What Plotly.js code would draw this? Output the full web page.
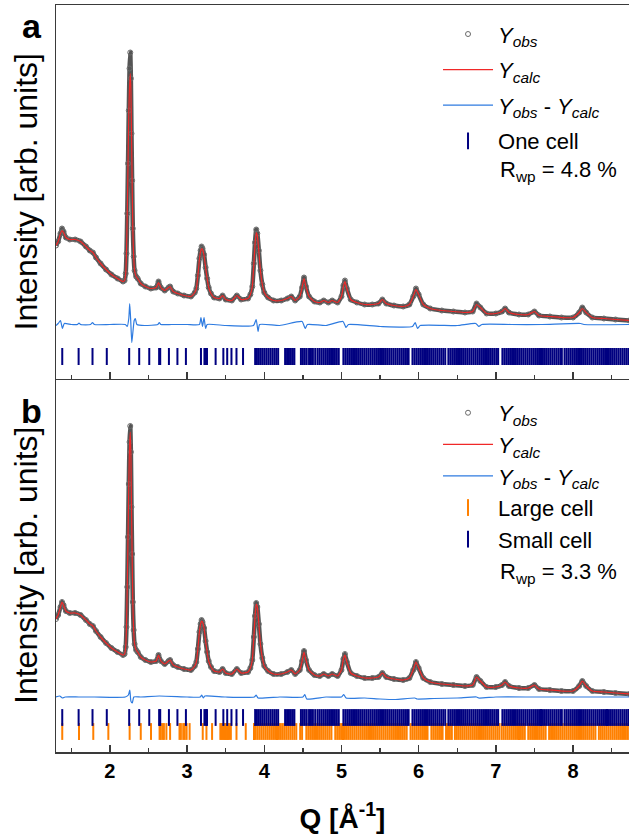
<!DOCTYPE html>
<html>
<head>
<meta charset="utf-8">
<script src="https://cdn.plot.ly/plotly-3.0.1.min.js"></script>
<style>html,body{margin:0;padding:0;background:#fff;}#chart{width:629px;height:834px;}</style>
</head>
<body>
<div id="chart"></div>
<script>
// ---------------- data ----------------
const q = [1.302,1.33,1.36,1.38,1.40,1.43,1.48,1.55,1.62,1.69,
1.74,1.78,1.82,1.88,1.95,2.02,2.10,2.17,2.19,2.205,
2.215,2.225,2.235,2.245,2.255,2.264,2.272,2.28,2.288,2.297,
2.308,2.32,2.34,2.36,2.40,2.46,2.53,2.60,2.63,2.66,
2.71,2.76,2.78,2.82,2.88,2.96,3.05,3.10,3.12,3.14,
3.16,3.175,3.188,3.20,3.22,3.24,3.26,3.28,3.31,3.35,
3.42,3.46,3.50,3.58,3.645,3.70,3.79,3.82,3.845,3.865,
3.88,3.896,3.91,3.93,3.95,3.975,4.00,4.05,4.12,4.22,
4.30,4.35,4.40,4.46,4.49,4.515,4.54,4.58,4.65,4.72,
4.77,4.83,4.88,4.95,5.00,5.025,5.045,5.07,5.12,5.20,
5.30,5.40,5.48,5.53,5.58,5.68,5.80,5.88,5.93,5.965,
6.00,6.06,6.15,6.30,6.45,6.60,6.70,6.75,6.80,6.88,
7.00,7.08,7.12,7.17,7.30,7.42,7.50,7.56,7.70,7.85,
8.00,8.08,8.12,8.17,8.25,8.40,8.55,8.73];

const yObs = [133,137,145,150,147,141,139,139,137,132,
128,126,121,115,109,104,100,97,98,105,
125,165,215,268,310,326,300,245,198,150,
122,108,102,100,95,92,90,91,97,91,
88,91,92,87,85,83,82,86,90,103,
120,128,132,130,124,111,100,91,85,81,
80,83,79,78,83,79,80,84,92,115,
136,149,145,128,108,94,86,81,78,78,
80,82,78,82,91,101,92,82,77,76,
78,76,78,76,82,93,98,90,79,76,
74,74,75,79,75,73,72,74,82,90,
84,74,70,68,67,66,67,75,71,65,
65,67,70,66,64,64,67,63,62,61,
61,66,71,66,61,60,59,58];

const yCalcA = [133,137,145,148,146,141,139,139,137,132,
128,126,121,115,109,104,100,97,98,105,
125,165,214,265,292,305,290,246,198,150,
122,108,102,100,95,92,90,91,96,91,
88,91,92,87,85,83,82,86,90,103,
119,127,130,129,123,111,100,91,85,81,
80,83,79,78,83,79,80,84,92,114,
134,146,143,127,108,94,86,81,78,78,
80,82,78,82,91,100,92,82,77,76,
78,76,78,76,82,92,97,90,79,76,
74,74,75,79,75,73,72,74,82,89,
84,74,70,68,67,66,67,74,71,65,
65,67,70,66,64,64,67,63,62,61,
61,66,70,66,61,60,59,58];

const yCalcB = [133,137,145,150,147,141,139,139,137,132,
128,126,121,115,109,104,100,97,98,105,
125,165,215,267,306,320,298,245,198,150,
122,108,102,100,95,92,90,91,97,91,
88,91,92,87,85,83,82,86,90,103,
120,128,131,130,124,111,100,91,85,81,
80,83,79,78,83,79,80,84,92,115,
135,148,145,128,108,94,86,81,78,78,
80,82,78,82,91,100,92,82,77,76,
78,76,78,76,82,93,97,90,79,76,
74,74,75,79,75,73,72,74,82,90,
84,74,70,68,67,66,67,75,71,65,
65,67,70,66,64,64,67,63,62,61,
61,66,71,66,61,60,59,58];

// residuals Yobs - Ycalc
const diffQA = [1.302,1.33,1.36,1.385,1.41,1.5,1.58,1.6,1.62,1.75,1.775,1.80,2.0,2.20,2.225,2.245,2.257,2.27,2.284,2.30,2.315,2.33,2.35,2.45,2.62,2.64,2.66,2.8,3.0,3.16,3.18,3.20,3.22,3.24,3.26,3.5,3.86,3.895,3.92,3.94,4.2,4.49,4.53,4.56,4.8,5.02,5.06,5.09,5.5,5.92,5.955,5.985,6.02,6.5,6.74,6.78,6.82,7.2,7.6,8.1,8.14,8.73];
const diffA  = [-1,1,4,-4,1,0,0,1.5,0,0,2,0,0,0,-2,6,21,4,-18,-6,4,6,0,-1,0,2,0,0,0,0,7,-2,7,-4,0,-1,-1,5,-7,0,-1,3,-4,0,-1,3,-3,0,-2,-2,2,-4,-1,-1,1,-2,0,0,0,1,0,0];

const diffQB = [1.302,1.35,1.385,1.42,1.6,1.8,2.2,2.24,2.258,2.272,2.29,2.31,2.4,2.64,3.0,3.17,3.19,3.21,3.23,3.5,3.87,3.895,3.92,4.2,4.5,4.525,4.55,4.8,5.0,5.03,5.06,5.3,5.5,5.7,5.95,5.98,6.2,6.5,6.75,6.78,7.0,7.5,8.0,8.73];
const diffB  = [0,1,-1,0,0,0,0,2,7,-4,-6,0,0,1,0,0,2,-1,1,0,0,2,-1,0,0,2.5,-2,0,0,2.5,-1,-1,-2,-2.5,-1,-2,-1.5,-1,0,-1,0,0,0,0];

// reflection positions (Q)
const reflOne = [1.383,1.595,1.775,1.96,2.25,2.38,2.51,2.638,2.652,2.765,2.875,2.985,3.18,3.225,3.245,3.258,3.37,3.47,3.52,3.575,3.64,3.725,
3.882,3.905,3.93,3.955,3.98,4.005,4.03,4.055,4.08,4.105,4.13,4.155,4.18,
4.27,4.295,4.32,4.345,4.37,4.39,
4.475,4.50,4.525,4.55,4.58,4.605,4.63,4.66,
4.69,4.715,4.74,4.765,4.79,4.815,4.84,4.865,4.89,4.915,4.94,4.965,
5.025,5.05,5.075,5.10,5.125,5.15,5.175,5.20,5.225,5.25,5.275,5.30,5.325,5.35,5.375,5.40,5.425,5.45,5.475,5.50,5.525,5.55,5.575,5.60,5.625,5.65,5.675,5.70,5.725,5.75,5.775,5.80,5.825,5.85,5.87,
5.92,5.945,5.97,5.995,6.02,6.045,6.07,6.095,6.12,6.145,6.17,6.195,6.22,6.245,6.27,6.295,6.32,6.345,
6.385,6.41,6.435,6.46,6.485,6.51,6.535,6.56,6.585,6.61,6.635,6.66,6.685,6.71,6.735,6.76,6.785,6.81,6.835,6.86,6.885,6.91,6.935,6.96,6.985,7.01,7.03,
7.085,7.11,7.135,7.16,7.185,7.21,7.235,7.26,7.285,7.31,7.335,7.36,7.385,7.41,7.435,7.46,7.485,7.51,7.535,7.56,7.585,7.61,7.635,7.66,7.685,7.71,7.735,7.76,7.785,7.81,7.835,7.855,
7.89,7.915,7.94,7.965,7.99,8.015,8.04,8.065,8.09,8.115,8.14,8.165,8.19,8.215,8.24,8.265,8.29,8.315,8.34,8.365,8.39,8.415,8.44,8.465,8.49,8.515,8.54,8.565,8.59,8.615,8.64,8.665,8.69,8.715,8.74];

const reflLarge = [1.383,1.60,1.785,1.98,2.256,2.40,2.533,2.644,2.66,2.683,2.70,2.732,2.78,2.902,2.92,2.95,2.97,2.994,3.033,3.203,3.251,3.324,3.431,3.445,3.46,3.475,3.489,3.503,3.518,3.532,3.547,3.567,3.64,3.76,
3.867,3.89,3.915,3.94,3.965,3.99,4.015,4.04,4.065,4.09,4.115,4.14,4.165,4.19,4.215,4.24,4.265,4.29,4.315,4.34,4.365,4.39,4.415,
4.465,4.49,
4.545,4.57,4.595,4.62,4.645,4.67,4.695,4.72,4.745,4.77,4.795,4.82,4.845,4.87,
4.92,4.945,4.97,4.995,5.02,5.045,5.07,5.095,5.12,5.145,5.17,5.195,5.22,5.245,5.27,5.295,5.32,5.345,5.37,5.395,5.42,5.445,5.47,5.495,5.52,5.545,5.57,5.595,5.62,5.645,5.67,5.695,5.72,5.745,5.77,5.795,5.82,5.845,
5.895,5.92,5.945,5.97,5.995,6.02,6.045,6.07,6.095,6.115,
6.165,6.19,6.215,6.24,6.265,6.29,6.31,
6.355,6.38,6.405,6.43,
6.47,6.495,6.52,6.545,6.57,6.595,6.62,6.645,6.67,6.695,6.72,6.745,6.77,6.795,6.82,6.845,6.87,6.895,6.92,6.945,6.97,6.995,7.02,7.045,
7.075,7.10,7.125,7.15,7.175,7.20,7.225,7.25,7.275,7.30,7.325,7.35,7.375,
7.42,7.445,7.47,7.495,7.52,7.545,7.57,7.595,7.62,7.645,
7.69,7.715,7.74,7.765,7.79,7.815,7.84,7.865,7.89,7.915,7.94,7.965,7.99,8.015,8.04,8.065,8.09,8.115,8.14,8.165,8.19,8.215,8.24,8.265,8.29,
8.335,8.36,8.385,8.41,8.435,8.46,8.485,8.51,8.535,8.56,8.585,8.61,8.635,8.66,8.685,8.71,8.735];

const legendNames = {
  obs: '<i>Y<sub>obs</sub></i>',
  calc: '<i>Y<sub>calc</sub></i>',
  diff: '<i>Y<sub>obs</sub></i> - <i>Y<sub>calc</sub></i>',
  one: 'One cell', large: 'Large cell', small: 'Small cell'
};
const rwpA = 'R<sub>wp</sub> = 4.8 %';
const rwpB = 'R<sub>wp</sub> = 3.3 %';

// ---------------- layout constants ----------------
const DIFF_OFF_A = 54, DIFF_OFF_B = 55;
const REFL_A = 22, REFL_B_SMALL = 34.5, REFL_B_LARGE = 20.5;
const FONT = 'Liberation Sans, Arial, Helvetica, sans-serif';
const GRAY = '#3a3a3a';
const RED = '#f02828', BLUE = '#2e7be0', NAVY = '#000080', ORANGE = '#ff8000';
const LEG_SIZE = 22;

function panel(xa, ya, yCalc, dQ, d, off, leg, g) {
  const tr = [];
  tr.push({x:q, y:yObs, xaxis:xa, yaxis:ya, mode:'lines', line:{color:'rgba(62,62,62,0.88)', width:4.5, shape:'spline', smoothing:0.5}, showlegend:false, hoverinfo:'skip'});
  tr.push({x:q, y:yObs, xaxis:xa, yaxis:ya, mode:'markers', name:legendNames.obs, legend:leg, legendgroup:g+'1',
    marker:{symbol:'circle-open', size:5, color:'#6a6a6a', line:{width:1, color:'#6a6a6a'}}});
  tr.push({x:q, y:yCalc, xaxis:xa, yaxis:ya, mode:'lines', name:legendNames.calc, legend:leg, legendgroup:g+'2',
    line:{color:RED, width:1.2, shape:'spline', smoothing:0.5}});
  tr.push({x:dQ, y:d.map(v => v + off), xaxis:xa, yaxis:ya, mode:'lines', name:legendNames.diff, legend:leg, legendgroup:g+'3',
    line:{color:BLUE, width:1.2, shape:'spline', smoothing:0.5}});
  return tr;
}
function refl(xa, ya, pos, yrow, color, name, leg, g) {
  return {x:pos, y:pos.map(() => yrow), xaxis:xa, yaxis:ya, mode:'markers', name:name, legend:leg, legendgroup:g,
    marker:{symbol:'line-ns-open', size:12, color:color, line:{width:2, color:color}}};
}

const traces = [
  ...panel('x2','y2', yCalcA, diffQA, diffA, DIFF_OFF_A, 'legend', 'a'),
  refl('x2','y2', reflOne, REFL_A, NAVY, legendNames.one, 'legend', 'a4'),
  ...panel('x','y', yCalcB, diffQB, diffB, DIFF_OFF_B, 'legend2', 'b'),
  refl('x','y', reflLarge, REFL_B_LARGE, ORANGE, legendNames.large, 'legend2', 'b4'),
  refl('x','y', reflOne, REFL_B_SMALL, NAVY, legendNames.small, 'legend2', 'b5')
];

const xCommon = {range:[1.302, 8.725], showline:true, linecolor:GRAY, linewidth:1.5, ticks:'inside', ticklen:7, tickwidth:1.5, tickcolor:GRAY,
  tick0:0, dtick:1, minor:{ticks:'inside', ticklen:4, tickwidth:1.5, tickcolor:GRAY, tick0:0, dtick:0.5, showgrid:false},
  showgrid:false, zeroline:false};
const yCommon = {range:[0, 373.5], showline:true, linecolor:GRAY, linewidth:1.5, ticks:'', showticklabels:false, showgrid:false, zeroline:false,
  title:{text:'Intensity [arb. units]', font:{size:32, family:FONT, color:'#000'}, standoff:7}};

const legCommon = {xanchor:'left', yanchor:'top', bgcolor:'rgba(0,0,0,0)', borderwidth:0, font:{size:LEG_SIZE, family:FONT, color:'#000'}, traceorder:'grouped', itemwidth:50};

const layout = {
  width:629, height:834,
  margin:{l:56, r:0, t:5, b:82, pad:0},
  paper_bgcolor:'#fff', plot_bgcolor:'#fff',
  font:{family:FONT, color:'#000'},
  showlegend:true,
  xaxis:Object.assign({}, xCommon, {anchor:'y', domain:[0,1],
    tickfont:{size:20, family:FONT, weight:'bold', color:'#000'},
    title:{text:'Q [Å<sup>-1</sup>]', font:{size:28, family:FONT, weight:'bold', color:'#000'}, standoff:31}}),
  xaxis2:Object.assign({}, xCommon, {anchor:'y2', domain:[0,1], matches:'x', showticklabels:false, mirror:true}),
  yaxis:Object.assign({}, yCommon, {domain:[0,0.5], anchor:'x'}),
  yaxis2:Object.assign({}, yCommon, {domain:[0.5,1], anchor:'x2', range:[0,373.5]}),
  legend:Object.assign({}, legCommon, {x:0.6667, y:0.989, tracegroupgap:4}),
  legend2:Object.assign({}, legCommon, {x:0.6667, y:0.482, tracegroupgap:0}),
  annotations:[
    {text:'<b>a</b>', xref:'paper', yref:'paper', x:-0.042, y:0.972, xanchor:'center', yanchor:'middle', showarrow:false, font:{size:34, family:FONT, color:'#000'}},
    {text:'<b>b</b>', xref:'paper', yref:'paper', x:-0.042, y:0.457, xanchor:'center', yanchor:'middle', showarrow:false, font:{size:34, family:FONT, color:'#000'}},
    {text:rwpA, xref:'paper', yref:'paper', x:0.771, y:0.778, xanchor:'left', yanchor:'middle', showarrow:false, font:{size:LEG_SIZE, family:FONT, color:'#000'}},
    {text:rwpB, xref:'paper', yref:'paper', x:0.771, y:0.239, xanchor:'left', yanchor:'middle', showarrow:false, font:{size:LEG_SIZE, family:FONT, color:'#000'}}
  ]
};

Plotly.newPlot('chart', traces, layout, {displayModeBar:false, staticPlot:true});
</script>
</body>
</html>
